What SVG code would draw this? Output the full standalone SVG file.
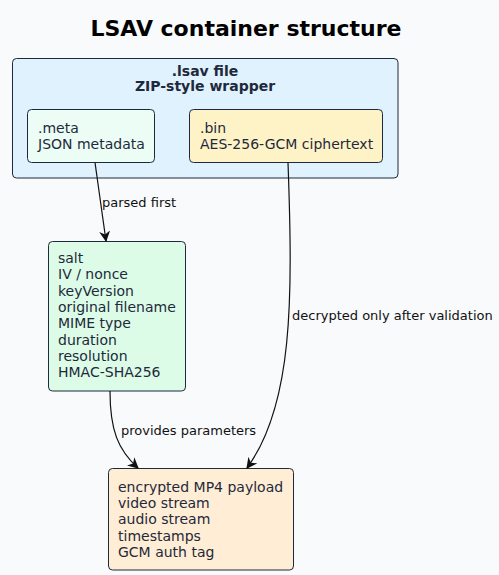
<svg xmlns="http://www.w3.org/2000/svg" width="499" height="575" viewBox="0 0 499 575">
<defs>
<style>
.t{font-family:"DejaVu Sans",sans-serif;font-size:14px;fill:#1e293b}
.b{font-family:"DejaVu Sans",sans-serif;font-size:14px;font-weight:bold;fill:#1e293b;text-anchor:middle}
.l{font-family:"DejaVu Sans",sans-serif;font-size:13px;fill:#111}
.box{stroke:#1e293b;stroke-width:1}
.e{fill:none;stroke:#111;stroke-width:1.2}
</style>
<marker id="ah" viewBox="0 0 10 10" refX="9" refY="5" markerWidth="11" markerHeight="11" markerUnits="userSpaceOnUse" orient="auto">
<path d="M0,0 L10,5 L0,10 L3,5 z" fill="#111"/>
</marker>
</defs>
<rect width="499" height="575" fill="#f8fafc"/>
<text x="246" y="36" font-family="DejaVu Sans,sans-serif" font-size="22" font-weight="bold" text-anchor="middle" fill="#000">LSAV container structure</text>
<g id="lsav">
<rect class="box" x="12.5" y="58.5" width="385.5" height="119.5" rx="4" fill="#e0f2fe"/>
<text class="b" x="205" y="76">.lsav file</text>
<text class="b" x="205" y="91">ZIP-style wrapper</text>
</g>
<g id="meta">
<rect class="box" x="27.5" y="109.5" width="127" height="53" rx="4" fill="#ecfdf5"/>
<text class="t" x="38" y="133">.meta</text>
<text class="t" x="38" y="149">JSON metadata</text>
</g>
<g id="bin">
<rect class="box" x="189.5" y="109.5" width="193" height="53" rx="4" fill="#fef3c7"/>
<text class="t" x="200" y="133">.bin</text>
<text class="t" x="200" y="149">AES-256-GCM ciphertext</text>
</g>
<g id="metadata">
<rect class="box" x="48.5" y="241.5" width="137" height="149.5" rx="4" fill="#dcfce7"/>
<text class="t" x="58" y="263">salt</text>
<text class="t" x="58" y="279.3">IV / nonce</text>
<text class="t" x="58" y="295.6">keyVersion</text>
<text class="t" x="58" y="311.9">original filename</text>
<text class="t" x="58" y="328.2">MIME type</text>
<text class="t" x="58" y="344.5">duration</text>
<text class="t" x="58" y="360.8">resolution</text>
<text class="t" x="58" y="377.1">HMAC-SHA256</text>
</g>
<g id="payload">
<rect class="box" x="108.5" y="468.5" width="185" height="101.5" rx="4" fill="#ffedd5"/>
<text class="t" x="118" y="491.7">encrypted MP4 payload</text>
<text class="t" x="118" y="508">video stream</text>
<text class="t" x="118" y="524.2">audio stream</text>
<text class="t" x="118" y="540.5">timestamps</text>
<text class="t" x="118" y="556.7">GCM auth tag</text>
</g>
<g id="connectors">
<path class="e" d="M95,162.5 L106,241" marker-end="url(#ah)"/>
<text class="l" x="102" y="207">parsed first</text>
<path class="e" d="M288,162.5 C293,300 293,405 247,468" marker-end="url(#ah)"/>
<text class="l" x="292" y="320">decrypted only after validation</text>
<path class="e" d="M110,391 C110,430 118,450 138,468" marker-end="url(#ah)"/>
<text class="l" x="121" y="435">provides parameters</text>
</g>
</svg>
